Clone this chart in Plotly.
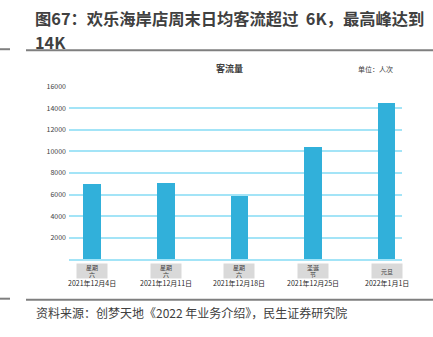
import plotly.graph_objects as go

# Weekend daily visitor counts
dates = ["2021年12月4日", "2021年12月11日", "2021年12月18日", "2021年12月25日", "2022年1月1日"]
day_labels = ["星期<br>六", "星期<br>六", "星期<br>六", "圣诞<br>节", "元旦"]
visitors = [7000, 7150, 5900, 10450, 14550]
y_ticks = [2000, 4000, 6000, 8000, 10000, 12000, 14000, 16000]

W, H = 433, 337
FONT = "Noto Sans CJK SC"
GRID = "#a3e4f7"
BAR = "#31b0da"
DARK = "#404040"


def py(px):
    """Convert a pixel row (from top) to paper y."""
    return (H - px) / H


def pxx(px):
    return px / W


fig = go.Figure()
fig.add_trace(go.Bar(
    x=list(range(len(dates))),
    y=visitors,
    width=0.24,
    marker=dict(color=BAR, line=dict(width=0)),
    hoverinfo="skip",
))

annotations = []
# Header title, two lines
title_lines = ["图67：欢乐海岸店周末日均客流超过\u00a0\u00a06K，最高峰达到", "14K"]
for line, yy in zip(title_lines, (12.5, 36.5)):
    annotations.append(dict(
        text=f"<b>{line}</b>",
        xref="paper", yref="paper", x=pxx(34), y=py(yy), xanchor="left", yanchor="middle",
        showarrow=False, borderpad=0, font=dict(family=FONT, size=16.3, color=DARK),
    ))
# Chart title and unit
annotations.append(dict(
    text="<b>客流量</b>", xref="paper", yref="paper", x=pxx(230), y=py(64),
    xanchor="center", yanchor="middle", showarrow=False,
    font=dict(family=FONT, size=9, color=DARK),
))
annotations.append(dict(
    text="单位：人次", xref="paper", yref="paper", x=pxx(375), y=py(64),
    xanchor="center", yanchor="middle", showarrow=False,
    font=dict(family=FONT, size=7, color=DARK),
))
# Category labels: gray day box + date
for i, (d, lab) in enumerate(zip(dates, day_labels)):
    annotations.append(dict(
        text=lab, xref="x", yref="paper", x=i, y=py(269.5),
        xanchor="center", yanchor="middle", showarrow=False,
        bgcolor="#d9d9d9", width=30, height=14, borderpad=0,
        font=dict(family=FONT, size=6, color="#404040"),
    ))
    annotations.append(dict(
        text=d, xref="x", yref="paper", x=i, y=py(282.5),
        xanchor="center", yanchor="middle", showarrow=False,
        font=dict(family=FONT, size=7, color="#262626"),
    ))
# Source note
annotations.append(dict(
    text="资料来源：创梦天地《2022 年业务介绍》，民生证券研究院",
    xref="paper", yref="paper", x=pxx(34), y=py(312), xanchor="left", yanchor="middle",
    showarrow=False, font=dict(family=FONT, size=12, color=DARK),
))

shapes = []
for yy in (45, 299):
    shapes.append(dict(type="line", xref="paper", yref="paper", x0=pxx(26), x1=1,
                       y0=py(yy), y1=py(yy), line=dict(color="#7f7f7f", width=2)))
    shapes.append(dict(type="line", xref="paper", yref="paper", x0=0, x1=pxx(10),
                       y0=py(yy - 1), y1=py(yy - 1), line=dict(color="#7f7f7f", width=2)))

fig.update_layout(
    width=W, height=H,
    margin=dict(l=0, r=0, t=0, b=0),
    paper_bgcolor="white", plot_bgcolor="white",
    showlegend=False,
    bargap=0,
    xaxis=dict(
        domain=[pxx(69), pxx(402)],
        range=[-0.315, 4.21],
        showticklabels=False, ticks="",
        showgrid=False, zeroline=False,
        showline=True, linecolor=GRID, linewidth=2,
        fixedrange=True,
    ),
    yaxis=dict(
        domain=[py(258), py(82)],
        range=[0, 16000],
        tickvals=y_ticks,
        ticktext=[str(v) for v in y_ticks],
        tickfont=dict(family=FONT, size=7, color="#404040"),
        showgrid=True, gridcolor=GRID, gridwidth=1.5,
        zeroline=False, showline=False, ticks="",
        ticklabelstandoff=2,
        fixedrange=True,
    ),
    annotations=annotations,
    shapes=shapes,
)

fig.write_html("out.html")
